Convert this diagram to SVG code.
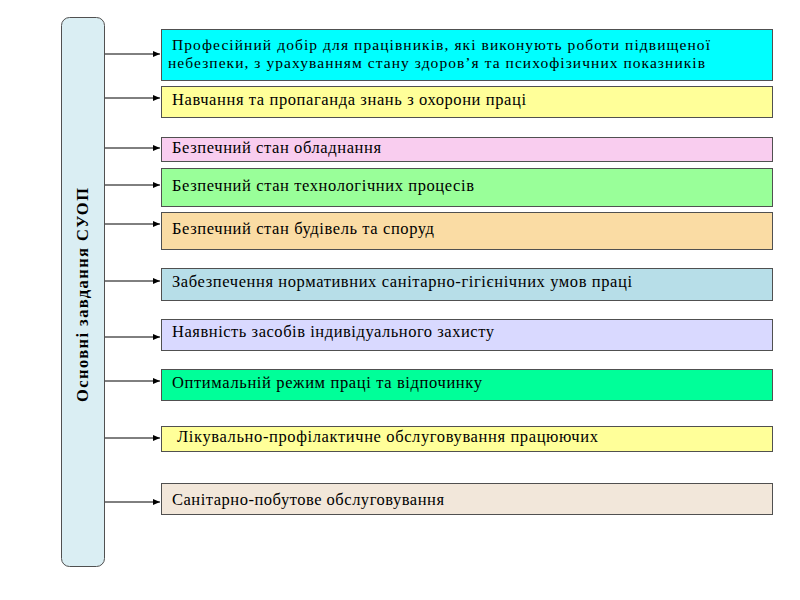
<svg xmlns="http://www.w3.org/2000/svg" width="800" height="600" viewBox="0 0 800 600">
<defs>
<marker id="arr" markerWidth="8" markerHeight="6" refX="7" refY="3" orient="auto" markerUnits="userSpaceOnUse">
<path d="M0,0 L7,3 L0,6 Z" fill="#000"/>
</marker>
<style>
.box{stroke:#505050;stroke-width:1}
.t{font-family:"Liberation Serif","Times New Roman",serif;font-size:16.5px;fill:#000}
.s{font-size:15.5px}
.c{stroke:#000;stroke-width:1;fill:none;marker-end:url(#arr)}
</style>
</defs>
<rect width="800" height="600" fill="#fff"/>
<g id="main">
<rect x="61.5" y="17.5" width="43" height="549" rx="8" fill="#DAEEF3" stroke="#505050"/>
<text class="t" font-weight="bold" transform="translate(88,295) rotate(-90)" text-anchor="middle" textLength="214" lengthAdjust="spacing">Основні  завдання СУОП</text>
</g>
<g id="connectors">
<line class="c" x1="105" y1="54" x2="160" y2="54"/>
<line class="c" x1="105" y1="98" x2="160" y2="98"/>
<line class="c" x1="105" y1="148" x2="160" y2="148"/>
<line class="c" x1="105" y1="185" x2="160" y2="185"/>
<line class="c" x1="105" y1="224" x2="160" y2="224"/>
<line class="c" x1="105" y1="281" x2="160" y2="281"/>
<line class="c" x1="105" y1="337" x2="160" y2="337"/>
<line class="c" x1="105" y1="381" x2="160" y2="381"/>
<line class="c" x1="105" y1="438" x2="160" y2="438"/>
<line class="c" x1="105" y1="502" x2="160" y2="502"/>
</g>
<g id="n1">
<rect class="box" x="161.5" y="29.5" width="611" height="51" fill="#00FFFF"/>
<text class="t s" x="172" y="50" textLength="538" lengthAdjust="spacing">Професійний добір для працівників,  які виконують  роботи підвищеної</text>
<text class="t s" x="168" y="68" textLength="537" lengthAdjust="spacing">небезпеки,  з урахуванням  стану  здоров’я та психофізичних  показників</text>
</g>
<g id="n2">
<rect class="box" x="161.5" y="86.5" width="611" height="31" fill="#FFFF99"/>
<text class="t" x="172" y="105" textLength="354" lengthAdjust="spacing">Навчання  та пропаганда  знань з охорони праці</text>
</g>
<g id="n3">
<rect class="box" x="161.5" y="137.5" width="611" height="24" fill="#F9CDEF"/>
<text class="t" x="172" y="153" textLength="209" lengthAdjust="spacing">Безпечний  стан обладнання</text>
</g>
<g id="n4">
<rect class="box" x="161.5" y="168.5" width="611" height="38" fill="#99FF99"/>
<text class="t" x="172" y="191" textLength="302" lengthAdjust="spacing">Безпечний  стан технологічних процесів</text>
</g>
<g id="n5">
<rect class="box" x="161.5" y="212.5" width="611" height="37" fill="#FADCA4"/>
<text class="t" x="172" y="234" textLength="262" lengthAdjust="spacing">Безпечний  стан будівель та споруд</text>
</g>
<g id="n6">
<rect class="box" x="161.5" y="268.5" width="611" height="32" fill="#B7DEE8"/>
<text class="t" x="172" y="287" textLength="460" lengthAdjust="spacing">Забезпечення  нормативних  санітарно-гігієнічних  умов праці</text>
</g>
<g id="n7">
<rect class="box" x="161.5" y="319.5" width="611" height="31" fill="#D9D9FF"/>
<text class="t" x="172" y="337" textLength="322" lengthAdjust="spacing">Наявність засобів індивідуального  захисту</text>
</g>
<g id="n8">
<rect class="box" x="161.5" y="369.5" width="611" height="31" fill="#00FF99"/>
<text class="t" x="172" y="388" textLength="310" lengthAdjust="spacing">Оптимальній  режим  праці та відпочинку</text>
</g>
<g id="n9">
<rect class="box" x="161.5" y="426.5" width="611" height="25" fill="#FFFF99"/>
<text class="t" x="177" y="442" textLength="421" lengthAdjust="spacing">Лікувально-профілактичне  обслуговування  працюючих</text>
</g>
<g id="n10">
<rect class="box" x="161.5" y="483.5" width="611" height="31" fill="#F2E7DA"/>
<text class="t" x="172" y="505" textLength="272" lengthAdjust="spacing">Санітарно-побутове  обслуговування</text>
</g>
</svg>
